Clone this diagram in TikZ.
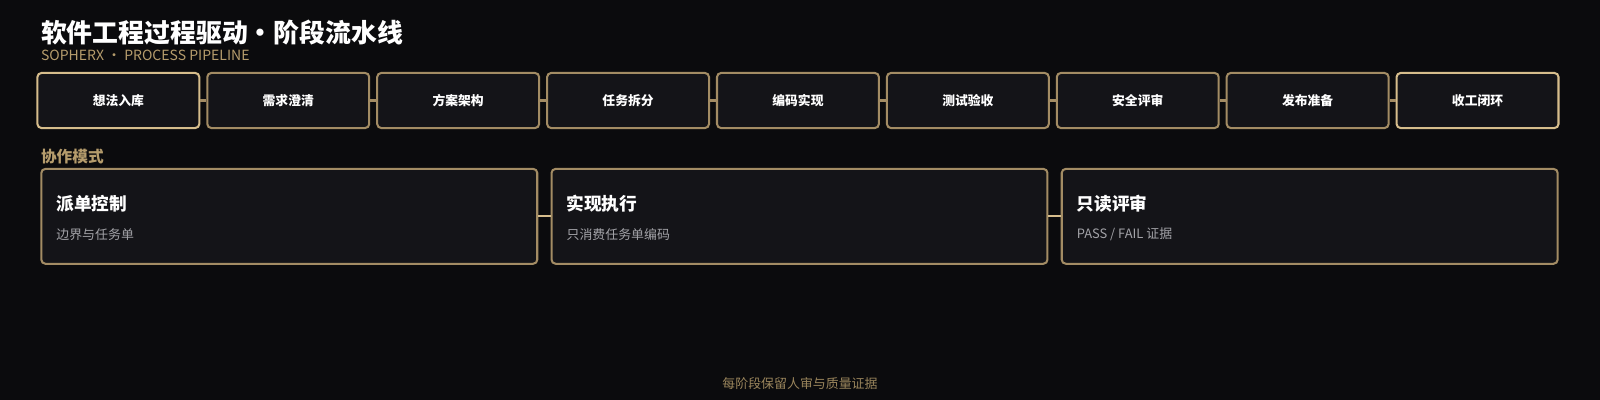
\documentclass[tikz,border=0pt]{standalone}
\usepackage{fontspec}
\setmainfont{Noto Sans CJK SC}
\definecolor{bgdark}{HTML}{0B0B0D}
\definecolor{boxfill}{HTML}{141418}
\definecolor{golddim}{HTML}{A38C64}
\definecolor{goldlight}{HTML}{D6BD8C}
\definecolor{goldtext}{HTML}{B59C6C}
\definecolor{greytext}{HTML}{A3A3A8}
\begin{document}
\begin{tikzpicture}[x=0.75pt, y=-0.75pt,
    stagebox/.style={rectangle, rounded corners=3pt, line width=1.5pt, fill=boxfill,
      minimum width=119pt, minimum height=40.5pt, text=white, font=\bfseries\fontsize{9.4}{11}\selectfont},
    modebox/.style={rectangle, rounded corners=3pt, draw=golddim, line width=1.5pt, fill=boxfill,
      minimum width=364.5pt, minimum height=69.75pt},
    link/.style={draw=golddim, line width=1.5pt}]
  \fill[bgdark] (0,0) rectangle (1568,392);
  \useasboundingbox (0,0) rectangle (1568,392);
  % title
  \node (title) at (40,32) [anchor=west, inner sep=0pt, text=white, font=\bfseries\fontsize{19}{23}\selectfont] {软件工程过程驱动・阶段流水线};
  \node (subtitle) at (40,54) [anchor=west, inner sep=0pt, text=goldtext, font=\fontsize{10.3}{12}\selectfont] {SOPHERX · PROCESS PIPELINE};
  % stages
  \foreach \i/\name/\edge in {1/想法入库/goldlight, 2/需求澄清/golddim, 3/方案架构/golddim, 4/任务拆分/golddim, 5/编码实现/golddim,
      6/测试验收/golddim, 7/安全评审/golddim, 8/发布准备/golddim, 9/收工闭环/goldlight}
    \node (s\i) at ({116+166.5*(\i-1)},98.5) [stagebox, draw=\edge] {\name};
  \foreach \source/\dest in {1/2, 2/3, 3/4, 4/5, 5/6, 6/7, 7/8, 8/9}
    \path (s\source.east) edge [link] (s\dest.west);
  % modes
  \node (modes) at (40,153) [anchor=west, inner sep=0pt, text=goldtext, font=\bfseries\fontsize{11.5}{13}\selectfont] {协作模式};
  \foreach \i/\head/\sub in {1/派单控制/边界与任务单, 2/实现执行/只消费任务单编码, 3/只读评审/{PASS / FAIL 证据}}
  {
    \node (m\i) at ({283.5+500*(\i-1)},212) [modebox] {};
    \node (mh\i) at ({55+500*(\i-1)},200) [anchor=west, inner sep=0pt, text=white, font=\bfseries\fontsize{13}{15}\selectfont] {\head};
    \node (ms\i) at ({55+500*(\i-1)},230) [anchor=west, inner sep=0pt, text=greytext, font=\fontsize{9.5}{11}\selectfont] {\sub};
  }
  \foreach \source/\dest in {1/2, 2/3}
    \path (m\source.east) edge [link, draw=goldlight] (m\dest.west);
  % footer
  \node (footer) at (784,376) [inner sep=0pt, text=goldtext!85!black, font=\fontsize{9.5}{11}\selectfont] {每阶段保留人审与质量证据};
\end{tikzpicture}
\end{document}
